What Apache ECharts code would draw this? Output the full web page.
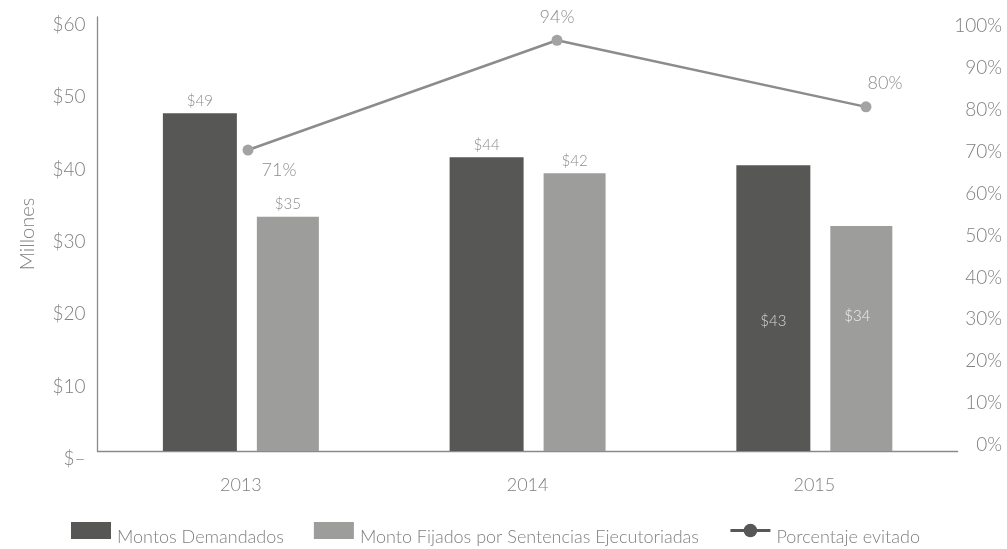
<!DOCTYPE html>
<html>
<head>
<meta charset="utf-8">
<script src="https://cdn.jsdelivr.net/npm/echarts@6/dist/echarts.min.js"></script>
<style>
  html, body { margin: 0; padding: 0; background: #ffffff; }
  #chart { width: 1007px; height: 549px; }
</style>
</head>
<body>
<div id="chart"></div>
<script>
const categories = ['2013', '2014', '2015'];
const montosDemandados = [46.7, 40.6, 39.5];
const montosFijados = [32.4, 38.4, 31.1];
const porcentajeEvitado = [70.4, 96.6, 80.7];
const demandadosLabels = ['$49', '$44', '$43'];
const fijadosLabels = ['$35', '$42', '$34'];
const porcentajeLabels = ['71%', '94%', '80%'];
const leftTicks = ['$–', '$10', '$20', '$30', '$40', '$50', '$60'];
const rightTicks = ['0%', '10%', '20%', '30%', '40%', '50%', '60%', '70%', '80%', '90%', '100%'];

const FONT = 'Lato, "Open Sans", "DejaVu Sans", sans-serif';
const TXT = '#7f7f7f';
const DARK = '#575756';
const LIGHT = '#9d9d9c';

const chart = echarts.init(document.getElementById('chart'));

const darkData = montosDemandados.map((v, i) => {
  const item = { value: v, label: { formatter: demandadosLabels[i] } };
  if (i === 2) {
    item.label = { formatter: demandadosLabels[i], position: 'inside', offset: [0, 13], color: '#d6d6d6' };
  }
  return item;
});
const lightData = montosFijados.map((v, i) => {
  const item = { value: v, label: { formatter: fijadosLabels[i] } };
  if (i === 2) {
    item.label = { formatter: fijadosLabels[i], position: 'inside', offset: [-4, -22], color: '#efefef' };
  }
  return item;
});
const lineLabelCfg = [
  { position: 'bottom', offset: [31, 1] },
  { position: 'top', offset: [0, -4] },
  { position: 'top', offset: [19, -4] }
];
const lineData = porcentajeEvitado.map((v, i) => ({
  value: v,
  label: Object.assign({ formatter: porcentajeLabels[i] }, lineLabelCfg[i])
}));

chart.setOption({
  animation: false,
  textStyle: { fontFamily: FONT },
  grid: [
    { left: 97.5, right: 49.3, top: 17, bottom: 98 },
    { left: 248, right: 141, top: 26, bottom: 104 }
  ],
  xAxis: [
    {
      type: 'category', gridIndex: 0, data: categories,
      axisLine: { lineStyle: { color: '#8a8a8a', width: 1.3 } },
      axisTick: { show: false },
      axisLabel: { color: TXT, fontSize: 18, fontFamily: FONT, fontWeight: 300, margin: 25 }
    },
    {
      type: 'category', gridIndex: 1, data: categories, boundaryGap: false,
      show: false
    }
  ],
  yAxis: [
    {
      type: 'value', gridIndex: 0, min: 0, max: 60, interval: 10,
      name: 'Millones', nameLocation: 'middle', nameGap: 60, nameRotate: 90,
      nameTextStyle: { color: TXT, fontSize: 20, fontFamily: FONT, fontWeight: 300 },
      axisLine: { show: true, lineStyle: { color: '#8a8a8a', width: 1.3 } },
      axisTick: { show: false },
      splitLine: { show: false },
      axisLabel: {
        color: TXT, fontSize: 19, fontFamily: FONT, fontWeight: 300, margin: 12,
        formatter: (v) => '{t|' + leftTicks[Math.round(v / 10)] + '}',
        rich: { t: { color: TXT, fontSize: 19, fontFamily: FONT, fontWeight: 300, padding: [16, 0, 0, 0] } }
      }
    },
    {
      type: 'value', gridIndex: 1, position: 'right', offset: 92,
      min: 0, max: 100, interval: 10,
      axisLine: { show: false },
      axisTick: { show: false },
      splitLine: { show: false },
      axisLabel: {
        color: TXT, fontSize: 19, fontFamily: FONT, fontWeight: 300, margin: 44, align: 'right',
        formatter: (v) => rightTicks[Math.round(v / 10)]
      }
    }
  ],
  legend: {
    top: 517,
    left: 66,
    itemWidth: 40,
    itemHeight: 17,
    itemGap: 30,
    formatter: (name) => '{t|' + name + '}',
    textStyle: {
      color: TXT, fontSize: 18, fontFamily: FONT, fontWeight: 300,
      rich: { t: { color: TXT, fontSize: 18, fontFamily: FONT, fontWeight: 300, padding: [14, 0, 0, 1] } }
    },
    data: [
      { name: 'Montos Demandados', icon: 'rect' },
      { name: 'Monto Fijados por Sentencias Ejecutoriadas', icon: 'rect' },
      { name: 'Porcentaje evitado', itemStyle: { color: DARK }, lineStyle: { color: DARK, width: 3 } }
    ]
  },
  series: [
    {
      name: 'Montos Demandados', type: 'bar', xAxisIndex: 0, yAxisIndex: 0,
      barWidth: 74, barGap: '27%',
      itemStyle: { color: DARK },
      label: { show: true, position: 'top', distance: 5, color: '#8c8c8c', fontSize: 15, fontFamily: FONT, fontWeight: 300 },
      data: darkData
    },
    {
      name: 'Monto Fijados por Sentencias Ejecutoriadas', type: 'bar', xAxisIndex: 0, yAxisIndex: 0,
      barWidth: 62, barGap: '27%',
      itemStyle: { color: LIGHT },
      label: { show: true, position: 'top', distance: 5, color: '#8c8c8c', fontSize: 15, fontFamily: FONT, fontWeight: 300 },
      data: lightData
    },
    {
      name: 'Porcentaje evitado', type: 'line', xAxisIndex: 1, yAxisIndex: 1,
      symbol: 'circle', symbolSize: 11,
      lineStyle: { color: '#8c8c8c', width: 2.5 },
      itemStyle: { color: '#a3a3a3' },
      label: { show: true, color: '#8c8c8c', fontSize: 18, fontFamily: FONT, fontWeight: 300 },
      data: lineData
    }
  ]
});
</script>
</body>
</html>
